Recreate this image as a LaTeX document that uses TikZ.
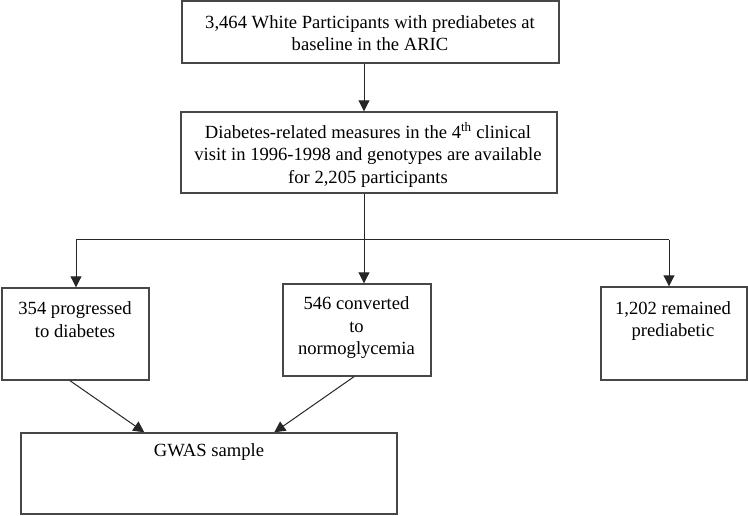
\documentclass[tikz,border=0pt]{standalone}
\usepackage{fontspec}
\setmainfont{Liberation Serif}
\newfontfamily\tnrfont{Liberation Serif}
\usetikzlibrary{arrows.meta}
\begin{document}
\begin{tikzpicture}[x=1pt,y=-1pt,
  box/.style={draw=black!72,line width=1.4pt,rectangle,inner sep=0pt},
  txt/.style={align=center,inner sep=0pt,font=\tnrfont\fontsize{18.6pt}{22.5pt}\selectfont},
  conn/.style={draw=black!85,line width=1pt},
  arr/.style={conn,-{Triangle[length=11pt,width=11pt]}}]
\useasboundingbox (0,0) rectangle (748,516);
% boxes
\node[box,minimum width=377pt,minimum height=62pt] (b1) at (370.5,32) {};
\node[box,minimum width=376pt,minimum height=81pt] (b2) at (369,152.5) {};
\node[box,minimum width=147pt,minimum height=92pt] (bl) at (75.5,334) {};
\node[box,minimum width=148pt,minimum height=92pt] (bm) at (357,330) {};
\node[box,minimum width=146pt,minimum height=93pt] (br) at (674,333.5) {};
\node[box,minimum width=376pt,minimum height=81pt] (bg) at (209,473.5) {};
% texts
\node[txt] (t1) at (370,33) {3,464 White Participants with prediabetes at\\baseline in the ARIC};
\node[txt] (t2) at (368,155) {Diabetes-related measures in the 4\textsuperscript{th} clinical\\visit in 1996-1998 and genotypes are available\\for 2,205 participants};
\node[txt] (tl) at (75,319.5) {354 progressed\\to diabetes};
\node[txt] (tm) at (356.5,328) {546 converted\\to\\normoglycemia};
\node[txt] (tr) at (673,321) {1,202 remained\\prediabetic};
\node[txt] (tg) at (209,452) {GWAS sample};
% connectors
\draw[arr] ([xshift=-6.5pt]b1.south) -- ([xshift=-5pt]b2.north);
\coordinate (split) at (364,240);
\coordinate (hl) at (76,240);
\coordinate (hr) at (669,240);
\draw[conn] ([xshift=-5pt]b2.south) -- (split);
\draw[conn] (hl) -- (hr);
\draw[arr] (hl) -- (hl |- bl.north);
\draw[arr] (split) -- (split |- bm.north);
\draw[arr] (hr) -- (hr |- br.north);
\draw[arr] ([xshift=-5.5pt]bl.south) -- ([xshift=124pt]bg.north west);
\draw[arr] ([xshift=-3pt]bm.south) -- ([xshift=254pt]bg.north west);
\end{tikzpicture}
\end{document}
